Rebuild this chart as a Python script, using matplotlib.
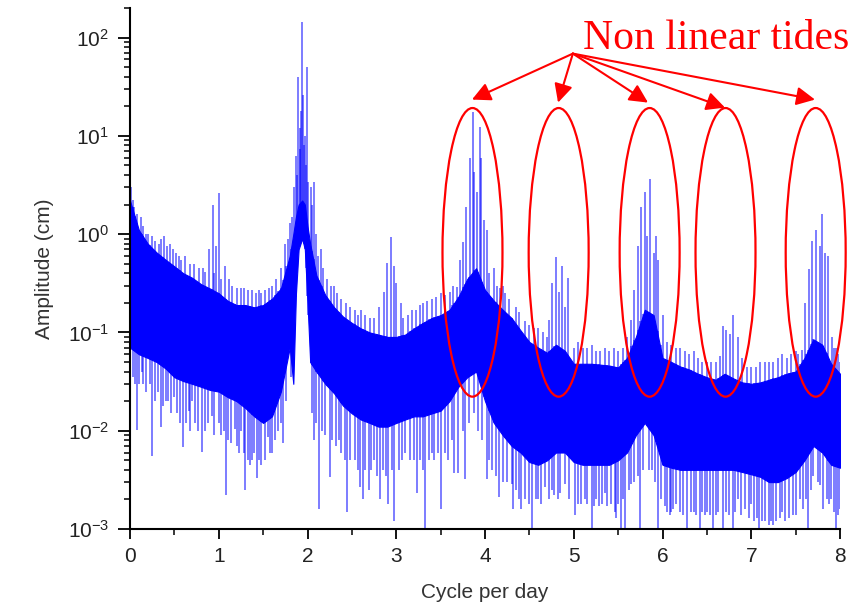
import numpy as np
import matplotlib
matplotlib.use("Agg")
import matplotlib.pyplot as plt
import matplotlib.transforms as mtransforms
from matplotlib.patches import Ellipse
from matplotlib.ticker import MultipleLocator, LogLocator

# dense noise band (cycle per day, amplitude in cm)
band_freq = [0.0, 0.1, 0.2, 0.3, 0.4, 0.5, 0.6, 0.7, 0.8, 0.9,
             1.0, 1.1, 1.2, 1.3, 1.4, 1.5, 1.6, 1.7, 1.8, 1.84,
             1.87, 1.90, 1.94, 1.97, 2.00, 2.03, 2.1, 2.2, 2.3, 2.4,
             2.5, 2.6, 2.7, 2.8, 2.9, 3.0, 3.1, 3.2, 3.3, 3.4,
             3.5, 3.6, 3.7, 3.8, 3.9, 4.0, 4.1, 4.2, 4.3, 4.4,
             4.5, 4.6, 4.7, 4.8, 4.9, 5.0, 5.1, 5.2, 5.3, 5.4,
             5.5, 5.6, 5.7, 5.8, 5.9, 6.0, 6.1, 6.2, 6.3, 6.4,
             6.5, 6.6, 6.7, 6.8, 6.9, 7.0, 7.1, 7.2, 7.3, 7.4,
             7.5, 7.6, 7.7, 7.8, 7.9, 8.0]
band_top = [2.2, 1.1, 0.8, 0.65, 0.55, 0.47, 0.4, 0.36, 0.31, 0.28,
            0.25, 0.21, 0.19, 0.19, 0.18, 0.19, 0.22, 0.28, 0.6, 1.0,
            1.5, 2.0, 2.2, 2.0, 1.2, 0.8, 0.38, 0.24, 0.18, 0.145,
            0.125, 0.11, 0.1, 0.095, 0.09, 0.09, 0.095, 0.11, 0.125, 0.14,
            0.15, 0.17, 0.23, 0.35, 0.45, 0.27, 0.21, 0.17, 0.14, 0.105,
            0.08, 0.07, 0.062, 0.075, 0.065, 0.048, 0.048, 0.048, 0.047, 0.046,
            0.044, 0.055, 0.09, 0.17, 0.15, 0.055, 0.05, 0.045, 0.042, 0.038,
            0.035, 0.033, 0.038, 0.034, 0.031, 0.03, 0.031, 0.033, 0.035, 0.038,
            0.04, 0.055, 0.085, 0.075, 0.048, 0.038]
band_bot = [0.07, 0.06, 0.055, 0.05, 0.043, 0.035, 0.032, 0.03, 0.028, 0.026,
            0.025, 0.022, 0.02, 0.017, 0.014, 0.012, 0.014, 0.025, 0.07, 0.03,
            0.25, 0.7, 0.9, 0.7, 0.2, 0.05, 0.04, 0.03, 0.024, 0.018,
            0.015, 0.013, 0.012, 0.011, 0.011, 0.012, 0.013, 0.014, 0.014, 0.015,
            0.016, 0.02, 0.028, 0.035, 0.04, 0.02, 0.012, 0.009, 0.007, 0.006,
            0.0048, 0.0045, 0.005, 0.006, 0.006, 0.0048, 0.0045, 0.0045, 0.0045, 0.0045,
            0.005, 0.006, 0.009, 0.012, 0.009, 0.0045, 0.0042, 0.004, 0.004, 0.004,
            0.004, 0.004, 0.004, 0.004, 0.0038, 0.0036, 0.0034, 0.003, 0.003, 0.0033,
            0.0038, 0.005, 0.007, 0.006, 0.0045, 0.0042]

# isolated peaks above the band
peak_freq = [0.01, 0.03, 0.12, 0.2, 0.38, 0.45, 0.55, 0.84, 0.89, 0.935,
             0.97, 1.003, 1.07, 1.12, 1.25, 1.45, 1.6, 1.7, 1.75,
             1.80, 1.82, 1.85, 1.867, 1.88, 1.896, 1.91, 1.92, 1.925, 1.938,
             1.945, 1.955, 1.97, 1.985, 1.998, 2.01, 2.036, 2.05, 2.07, 2.1,
             2.149, 2.3, 2.6, 2.81, 2.86, 2.895, 2.94, 2.98, 3.0,
             3.05, 3.3, 3.5, 3.68, 3.72, 3.755, 3.79, 3.835, 3.86, 3.88,
             3.905, 3.94, 3.95, 3.99, 4.02, 4.1, 4.2, 4.6, 4.725, 4.755,
             4.80, 4.83, 4.87, 4.90, 4.93, 5.05, 5.1, 5.3, 5.45, 5.6,
             5.65, 5.68, 5.72, 5.76, 5.80, 5.83, 5.86, 5.90, 5.93, 5.95,
             6.0, 6.2, 6.35, 6.6, 6.65, 6.685, 6.72, 6.755, 6.79, 6.85,
             6.9, 7.15, 7.4, 7.57, 7.61, 7.65, 7.69, 7.73, 7.77, 7.80,
             7.83, 7.87, 7.905, 7.95, 8.0]
peak_amp = [3.0, 2.2, 1.5, 1.0, 0.95, 0.8, 0.6, 0.41, 0.71, 2.0,
            0.75, 2.6, 0.47, 0.35, 0.28, 0.27, 0.3, 0.45, 0.8,
            1.3, 1.5, 3.0, 6.3, 4.0, 40, 12, 7.3, 18, 145,
            26, 8.0, 10, 5.0, 50, 3.4, 3.0, 2.0, 3.4, 1.0,
            0.71, 0.3, 0.17, 0.18, 0.26, 0.51, 0.93, 0.47, 0.32,
            0.2, 0.2, 0.25, 0.29, 0.55, 0.83, 1.9, 5.9, 17.5, 4.3,
            2.7, 12.3, 5.9, 1.4, 1.1, 0.45, 0.3, 0.11, 0.135, 0.32,
            0.58, 0.26, 0.47, 0.18, 0.36, 0.08, 0.07, 0.065, 0.07, 0.09,
            0.135, 0.27, 0.75, 1.9, 2.7, 0.95, 3.6, 0.65, 0.95, 0.55,
            0.15, 0.07, 0.065, 0.05, 0.057, 0.115, 0.107, 0.096, 0.15, 0.09,
            0.055, 0.05, 0.055, 0.067, 0.2, 0.44, 0.85, 1.1, 0.75, 1.6,
            0.65, 0.6, 0.09, 0.07, 0.05]

# deep minima below the band
dip_freq = [0.083, 0.15, 0.25, 0.345, 0.4, 0.50, 0.60, 0.66, 0.7, 0.81,
            0.92, 1.0, 1.08, 1.14, 1.18, 1.25, 1.30, 1.35, 1.43, 1.55,
            1.6, 1.72, 1.81, 2.07, 2.13, 2.25, 2.35, 2.45, 2.59, 2.62,
            2.69, 2.75, 2.82, 2.91, 2.97, 3.1, 3.23, 3.32, 3.4, 3.50,
            3.65, 3.70, 3.77, 4.02, 4.16, 4.30, 4.32, 4.41, 4.53, 4.6,
            4.68, 4.75, 4.85, 4.90, 5.01, 5.13, 5.20, 5.25, 5.35, 5.46,
            5.48, 5.53, 5.58, 5.65, 5.75, 5.95, 6.08, 6.15, 6.28, 6.35,
            6.42, 6.5, 6.57, 6.68, 6.79, 6.85, 6.93, 7.0, 7.09, 7.25,
            7.35, 7.47, 7.55, 7.64, 7.7, 7.81, 7.9, 7.96, 8.0]
dip_amp = [0.0102, 0.03, 0.0055, 0.011, 0.02, 0.022, 0.0069, 0.016, 0.02, 0.0061,
           0.014, 0.012, 0.0022, 0.0075, 0.0105, 0.01, 0.0025, 0.0045, 0.0033, 0.0087,
           0.006, 0.0075, 0.035, 0.0081, 0.0016, 0.0034, 0.008, 0.0015, 0.0027, 0.002,
           0.0025, 0.005, 0.002, 0.0018, 0.0012, 0.006, 0.0023, 0.001, 0.006, 0.0016,
           0.0037, 0.0037, 0.0032, 0.0032, 0.0021, 0.0029, 0.0016, 0.0016, 0.001, 0.002,
           0.0027, 0.0025, 0.0023, 0.0029, 0.0014, 0.002, 0.001, 0.002, 0.0023, 0.0015,
           0.0013, 0.001, 0.001, 0.0029, 0.001, 0.001, 0.0014, 0.0018, 0.001, 0.0015,
           0.001, 0.0015, 0.001, 0.001, 0.001, 0.002, 0.0016, 0.0018, 0.001, 0.0011,
           0.0015, 0.0014, 0.002, 0.001, 0.0035, 0.0016, 0.002, 0.001, 0.0016]

# short ragged lines just above the band
fringe_up_freq = [0.05, 0.08, 0.15, 0.18, 0.25, 0.28, 0.33, 0.35, 0.42, 0.48,
                  0.52, 0.58, 0.62, 0.68, 0.72, 0.78, 0.82, 0.95, 1.03, 1.15,
                  1.2, 1.28, 1.33, 1.38, 1.42, 1.48, 1.52, 1.57, 1.65, 1.78,
                  2.12, 2.18, 2.22, 2.27, 2.33, 2.38, 2.43, 2.48, 2.53, 2.57,
                  2.65, 2.7, 2.75, 3.08, 3.13, 3.18, 3.22, 3.27, 3.35, 3.4,
                  3.45, 3.55, 3.6, 3.64, 4.05, 4.13, 4.17, 4.23, 4.27, 4.35,
                  4.38, 4.45, 4.5, 4.55, 4.65, 4.7, 5.0, 5.15, 5.2, 5.25,
                  5.35, 5.4, 5.5, 5.55, 6.05, 6.1, 6.15, 6.25, 6.3, 6.4,
                  6.45, 6.5, 6.55, 6.95, 7.0, 7.05, 7.1, 7.2, 7.25, 7.3,
                  7.35, 7.45, 7.5, 7.53, 7.93, 7.98]
fringe_up_amp = [1.9, 1.6, 1.2, 1.0, 0.95, 0.85, 0.8, 0.9, 0.75, 0.7,
                 0.65, 0.55, 0.6, 0.5, 0.5, 0.45, 0.45, 0.4, 0.35, 0.3,
                 0.28, 0.28, 0.27, 0.27, 0.25, 0.25, 0.27, 0.28, 0.35, 0.9,
                 0.6, 0.45, 0.35, 0.3, 0.25, 0.22, 0.2, 0.18, 0.17, 0.15,
                 0.15, 0.14, 0.14, 0.14, 0.15, 0.17, 0.17, 0.19, 0.21, 0.22,
                 0.23, 0.24, 0.26, 0.3, 0.4, 0.3, 0.28, 0.25, 0.22, 0.18,
                 0.16, 0.13, 0.12, 0.11, 0.1, 0.09, 0.07, 0.07, 0.075, 0.065,
                 0.07, 0.065, 0.065, 0.07, 0.08, 0.075, 0.07, 0.065, 0.06, 0.055,
                 0.05, 0.05, 0.05, 0.045, 0.045, 0.045, 0.05, 0.05, 0.05, 0.055,
                 0.06, 0.06, 0.065, 0.06, 0.07, 0.06]

# short ragged lines just below the band
fringe_dn_freq = [0.03, 0.06, 0.1, 0.13, 0.18, 0.22, 0.28, 0.32, 0.37, 0.43,
                  0.46, 0.53, 0.56, 0.63, 0.68, 0.73, 0.77, 0.85, 0.88, 0.95,
                  1.03, 1.06, 1.1, 1.2, 1.23, 1.28, 1.33, 1.38, 1.4, 1.45,
                  1.48, 1.52, 1.58, 1.63, 1.67, 1.7, 1.76, 2.05, 2.1, 2.16,
                  2.2, 2.28, 2.32, 2.38, 2.42, 2.48, 2.53, 2.57, 2.65, 2.72,
                  2.78, 2.85, 2.88, 2.95, 3.03, 3.07, 3.15, 3.2, 3.27, 3.3,
                  3.37, 3.43, 3.47, 3.55, 3.58, 3.63, 3.75, 3.82, 3.88, 3.92,
                  3.97, 4.05, 4.08, 4.12, 4.2, 4.25, 4.35, 4.38, 4.45, 4.5,
                  4.57, 4.63, 4.72, 4.78, 4.82, 4.95, 5.05, 5.08, 5.15, 5.23,
                  5.28, 5.32, 5.38, 5.42, 5.5, 5.55, 5.62, 5.68, 5.72, 5.78,
                  5.85, 5.88, 5.92, 5.98, 6.03, 6.05, 6.1, 6.12, 6.2, 6.23,
                  6.32, 6.38, 6.45, 6.48, 6.53, 6.6, 6.63, 6.72, 6.75, 6.82,
                  6.88, 6.97, 7.03, 7.07, 7.12, 7.15, 7.2, 7.22, 7.28, 7.32,
                  7.38, 7.42, 7.5, 7.58, 7.62, 7.67, 7.75, 7.78, 7.85, 7.88,
                  7.93, 7.98]
fringe_dn_amp = [0.035, 0.03, 0.03, 0.04, 0.025, 0.03, 0.02, 0.025, 0.018, 0.02,
                 0.015, 0.015, 0.012, 0.012, 0.01, 0.012, 0.01, 0.01, 0.012, 0.009,
                 0.009, 0.01, 0.008, 0.007, 0.006, 0.006, 0.005, 0.005, 0.006, 0.005,
                 0.0045, 0.005, 0.006, 0.008, 0.01, 0.012, 0.02, 0.015, 0.012, 0.01,
                 0.009, 0.008, 0.007, 0.006, 0.005, 0.005, 0.005, 0.004, 0.004, 0.004,
                 0.0035, 0.004, 0.0035, 0.004, 0.004, 0.005, 0.005, 0.005, 0.005, 0.004,
                 0.005, 0.005, 0.006, 0.006, 0.005, 0.008, 0.01, 0.012, 0.015, 0.01,
                 0.008, 0.005, 0.004, 0.0035, 0.003, 0.003, 0.0025, 0.002, 0.002, 0.0018,
                 0.002, 0.0018, 0.002, 0.0022, 0.002, 0.002, 0.0018, 0.0018, 0.0018, 0.0017,
                 0.0017, 0.0018, 0.0017, 0.0018, 0.0018, 0.002, 0.0025, 0.003, 0.0035, 0.004,
                 0.004, 0.004, 0.003, 0.002, 0.0017, 0.0015, 0.0015, 0.0016, 0.0015, 0.0014,
                 0.0015, 0.0014, 0.0015, 0.0014, 0.0014, 0.0014, 0.0015, 0.0015, 0.0014, 0.0015,
                 0.0014, 0.0013, 0.0012, 0.0013, 0.0012, 0.0012, 0.0011, 0.0012, 0.0012, 0.0013,
                 0.0012, 0.0013, 0.0014, 0.0016, 0.002, 0.0025, 0.003, 0.0028, 0.002, 0.0018,
                 0.0015, 0.0014]

# circled groups (cycle per day) and where the arrows point
circle_freq = [3.859, 4.83, 5.855, 6.71, 7.726]
arrow_tip_freq = [3.853, 4.823, 5.837, 6.704, 7.718]
arrow_tip_amp = [23.4, 21.8, 21.8, 19.4, 23.4]

plt.rcParams["font.family"] = "Liberation Sans"
plt.rcParams["mathtext.fontset"] = "custom"
plt.rcParams["mathtext.rm"] = "Liberation Sans"
plt.rcParams["axes.unicode_minus"] = False

blue = "#0000ff"
red = "#ff0000"

fig = plt.figure(figsize=(8.6, 6.11), dpi=100)
ax = fig.add_axes([130/860, 82/611, 710/860, 521/611])

ax.fill_between(band_freq, band_bot, band_top, color=blue, lw=0.8, edgecolor=blue)

top_at = lambda f: np.interp(f, band_freq, band_top)
bot_at = lambda f: np.interp(f, band_freq, band_bot)
ax.vlines(fringe_up_freq, bot_at(fringe_up_freq), fringe_up_amp, color=blue, alpha=0.6, lw=1.2)
ax.vlines(fringe_dn_freq, fringe_dn_amp, top_at(fringe_dn_freq), color=blue, alpha=0.6, lw=1.2)
ax.vlines(peak_freq, bot_at(peak_freq), peak_amp, color=blue, alpha=0.6, lw=1.2)
ax.vlines(dip_freq, dip_amp, top_at(dip_freq), color=blue, alpha=0.6, lw=1.2)

ax.set_yscale("log")
ax.set_xlim(0, 8)
ax.set_ylim(1e-3, 200)
ax.xaxis.set_major_locator(MultipleLocator(1))
ax.xaxis.set_minor_locator(MultipleLocator(0.5))
ax.yaxis.set_major_locator(LogLocator(base=10, numticks=10))
ax.yaxis.set_minor_locator(LogLocator(base=10, subs=np.arange(2, 10), numticks=10))

for side in ["top", "right"]:
    ax.spines[side].set_visible(False)
for side in ["left", "bottom"]:
    ax.spines[side].set_linewidth(1.5)
ax.tick_params(which="major", direction="out", length=7, width=1.3, labelsize=15, pad=6)
ax.tick_params(which="minor", direction="out", length=4, width=1.1)
ax.tick_params(axis="y", which="major", length=9)

ax.set_xlabel("Cycle per day", fontsize=15, color="#333333", labelpad=12)
ax.set_ylabel("Amplitude (cm)", fontsize=15, color="#333333", labelpad=10)
ax.tick_params(labelcolor="#222222")

# ellipses: width in data units along x, height as a fraction of the axes
trans = mtransforms.blended_transform_factory(ax.transData, ax.transAxes)
for cf in circle_freq:
    ax.add_patch(Ellipse((cf, 0.531), 0.676, 0.554, transform=trans,
                         fill=False, edgecolor=red, lw=1.6, clip_on=False, zorder=5))

for tf, ta in zip(arrow_tip_freq, arrow_tip_amp):
    ax.annotate("", xy=(tf, ta), xytext=(4.99, 68.7),
                arrowprops=dict(arrowstyle="-|>", color=red, lw=1.5,
                                mutation_scale=28, shrinkA=0, shrinkB=0),
                annotation_clip=False)

ax.text(5.104, 77, "Non linear tides", color=red, fontsize=30,
        family="Liberation Serif", ha="left", va="baseline", clip_on=False)

fig.savefig("out.png", dpi=100)
